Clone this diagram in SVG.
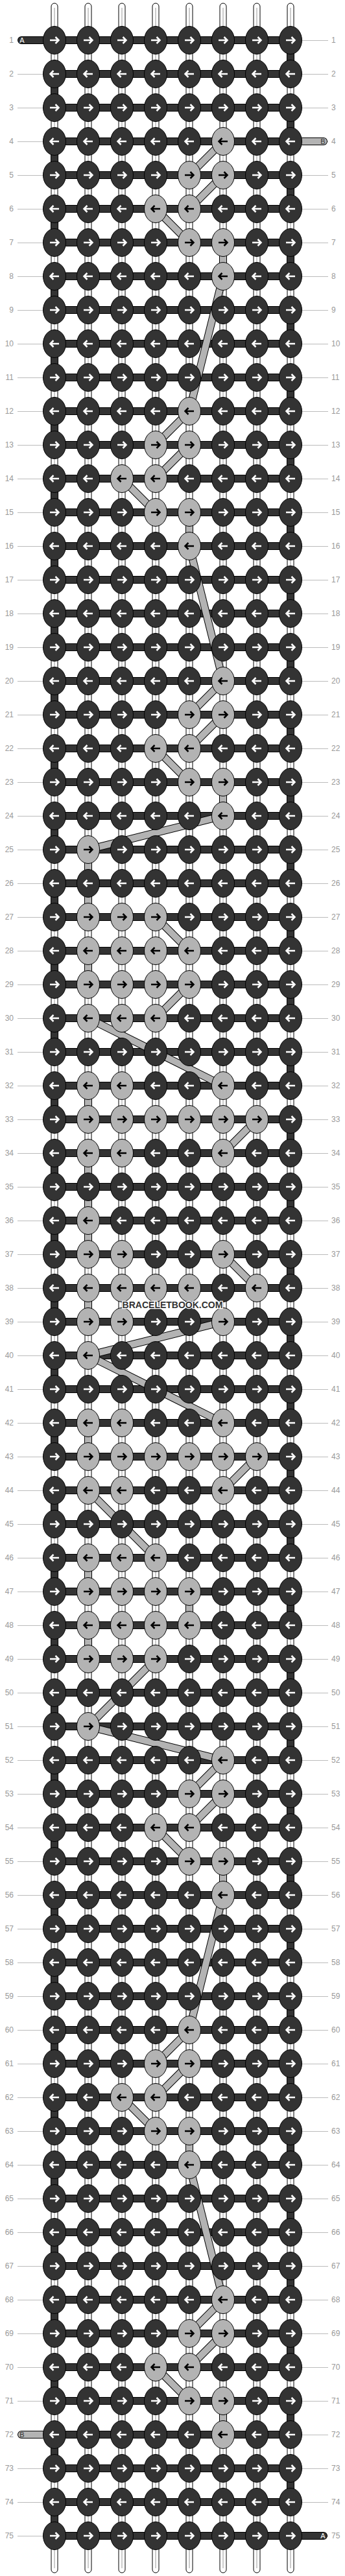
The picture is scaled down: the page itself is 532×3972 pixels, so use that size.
<svg xmlns="http://www.w3.org/2000/svg" xmlns:xlink="http://www.w3.org/1999/xlink" width="532" height="3972" viewBox="0 0 532 3972">
<style>
.kd{fill:#333;stroke:#000;stroke-width:1}
.kg{fill:#b3b3b3;stroke:#000;stroke-width:1}
.aw{fill:none;stroke:#fff;stroke-width:2.5}
.ab{fill:none;stroke:#000;stroke-width:2.5}
.str{fill:#fff;stroke:#000;stroke-width:1}
.sc{stroke:#ccc;stroke-width:2;fill:none}
.ol{fill:none;stroke:#000;stroke-width:12}
.fg{fill:none;stroke:#b3b3b3;stroke-width:10}
.olr{fill:none;stroke:#000;stroke-width:12;stroke-linecap:round}
.fdr{fill:none;stroke:#333;stroke-width:10;stroke-linecap:round}
.fgr{fill:none;stroke:#b3b3b3;stroke-width:10;stroke-linecap:round}
.tk{fill:none;stroke:#bbb;stroke-width:1}
.nl{font-family:"Liberation Sans",Arial,sans-serif;font-size:12px;fill:#999;text-anchor:end}
.nr{font-family:"Liberation Sans",Arial,sans-serif;font-size:12px;fill:#999;text-anchor:start}
.tl{font-family:"Liberation Sans",Arial,sans-serif;font-size:11px;text-anchor:middle}
.wm{font-family:"Liberation Sans",Arial,sans-serif;font-size:14px;font-weight:bold;fill:#333;stroke:#fff;stroke-width:2.5;paint-order:stroke;text-anchor:middle}
</style>
<defs>
<g id="dR"><ellipse class="kd" rx="17.5" ry="21.5"/><path class="aw" d="M-7,0H6M1.5,-5L6.5,0L1.5,5"/></g>
<g id="dL"><ellipse class="kd" rx="17.5" ry="21.5"/><path class="aw" d="M7,0H-6M-1.5,-5L-6.5,0L-1.5,5"/></g>
<g id="gR"><ellipse class="kg" rx="17.5" ry="21.5"/><path class="ab" d="M-7,0H6M1.5,-5L6.5,0L1.5,5"/></g>
<g id="gL"><ellipse class="kg" rx="17.5" ry="21.5"/><path class="ab" d="M7,0H-6M-1.5,-5L-6.5,0L-1.5,5"/></g>
<path id="apath" d="M33,62H448V114H84V166H448V218H84V270H448V322H84V374H448V426H84V478H448V530H84V582H448V634H84V686H448V738H84V790H448V842H84V894H448V946H84V998H448V1050H84V1102H448V1154H84V1206H448V1258H84V1310H448V1362H84V1414H448V1466H84V1518H448V1570H84V1622H448V1674H84V1726H448V1778H84V1830H448V1882H84V1934H448V1986H84V2038H448V2090H84V2142H448V2194H84V2246H448V2298H84V2350H448V2402H84V2454H448V2506H84V2558H448V2610H84V2662H448V2714H84V2766H448V2818H84V2870H448V2922H84V2974H448V3026H84V3078H448V3130H84V3182H448V3234H84V3286H448V3338H84V3390H448V3442H84V3494H448V3546H84V3598H448V3650H84V3702H448V3754H84V3806H448V3858H84V3910H499"/>
<path id="bpath" d="M344,218L292,270M344,270L292,322M240,322L292,374M344,374L344,426M344,426L292,634M292,634L240,686M292,686L240,738M188,738L240,790M292,790L292,842M292,842L344,1050M344,1050L292,1102M344,1102L292,1154M240,1154L292,1206M344,1206L344,1258M344,1258L136,1310M136,1310L136,1414M240,1414L292,1466M136,1466L136,1518M292,1518L240,1570M136,1570L344,1674M136,1674L136,1726M396,1726L344,1778M136,1778L136,1934M344,1934L396,1986M136,1986L136,2038M344,2038L136,2090M136,2090L344,2194M136,2194L136,2246M396,2246L344,2298M136,2298L240,2402M136,2402L136,2454M292,2454L292,2506M136,2506L136,2558M240,2558L136,2662M136,2662L344,2714M344,2714L292,2766M344,2766L292,2818M240,2818L292,2870M344,2870L344,2922M344,2922L292,3130M292,3130L240,3182M292,3182L240,3234M188,3234L240,3286M292,3286L292,3338M292,3338L344,3546M344,3546L292,3598M344,3598L292,3650M240,3650L292,3702M344,3702L344,3754"/>
</defs>
<g id="strings">
<rect class="str" x="79" y="5" width="10" height="3962" rx="5"/>
<rect class="str" x="131" y="5" width="10" height="3962" rx="5"/>
<rect class="str" x="183" y="5" width="10" height="3962" rx="5"/>
<rect class="str" x="235" y="5" width="10" height="3962" rx="5"/>
<rect class="str" x="287" y="5" width="10" height="3962" rx="5"/>
<rect class="str" x="339" y="5" width="10" height="3962" rx="5"/>
<rect class="str" x="391" y="5" width="10" height="3962" rx="5"/>
<rect class="str" x="443" y="5" width="10" height="3962" rx="5"/>
<path class="sc" d="M84,12V3960M136,12V3960M188,12V3960M240,12V3960M292,12V3960M344,12V3960M396,12V3960M448,12V3960"/>
</g>
<g id="labels">
<path class="tk" d="M27,62.5h39M27,114.5h39M27,166.5h39M27,218.5h39M27,270.5h39M27,322.5h39M27,374.5h39M27,426.5h39M27,478.5h39M27,530.5h39M27,582.5h39M27,634.5h39M27,686.5h39M27,738.5h39M27,790.5h39M27,842.5h39M27,894.5h39M27,946.5h39M27,998.5h39M27,1050.5h39M27,1102.5h39M27,1154.5h39M27,1206.5h39M27,1258.5h39M27,1310.5h39M27,1362.5h39M27,1414.5h39M27,1466.5h39M27,1518.5h39M27,1570.5h39M27,1622.5h39M27,1674.5h39M27,1726.5h39M27,1778.5h39M27,1830.5h39M27,1882.5h39M27,1934.5h39M27,1986.5h39M27,2038.5h39M27,2090.5h39M27,2142.5h39M27,2194.5h39M27,2246.5h39M27,2298.5h39M27,2350.5h39M27,2402.5h39M27,2454.5h39M27,2506.5h39M27,2558.5h39M27,2610.5h39M27,2662.5h39M27,2714.5h39M27,2766.5h39M27,2818.5h39M27,2870.5h39M27,2922.5h39M27,2974.5h39M27,3026.5h39M27,3078.5h39M27,3130.5h39M27,3182.5h39M27,3234.5h39M27,3286.5h39M27,3338.5h39M27,3390.5h39M27,3442.5h39M27,3494.5h39M27,3546.5h39M27,3598.5h39M27,3650.5h39M27,3702.5h39M27,3754.5h39M27,3806.5h39M27,3858.5h39M27,3910.5h39"/>
<path class="tk" d="M466,62.5h40M466,114.5h40M466,166.5h40M466,218.5h40M466,270.5h40M466,322.5h40M466,374.5h40M466,426.5h40M466,478.5h40M466,530.5h40M466,582.5h40M466,634.5h40M466,686.5h40M466,738.5h40M466,790.5h40M466,842.5h40M466,894.5h40M466,946.5h40M466,998.5h40M466,1050.5h40M466,1102.5h40M466,1154.5h40M466,1206.5h40M466,1258.5h40M466,1310.5h40M466,1362.5h40M466,1414.5h40M466,1466.5h40M466,1518.5h40M466,1570.5h40M466,1622.5h40M466,1674.5h40M466,1726.5h40M466,1778.5h40M466,1830.5h40M466,1882.5h40M466,1934.5h40M466,1986.5h40M466,2038.5h40M466,2090.5h40M466,2142.5h40M466,2194.5h40M466,2246.5h40M466,2298.5h40M466,2350.5h40M466,2402.5h40M466,2454.5h40M466,2506.5h40M466,2558.5h40M466,2610.5h40M466,2662.5h40M466,2714.5h40M466,2766.5h40M466,2818.5h40M466,2870.5h40M466,2922.5h40M466,2974.5h40M466,3026.5h40M466,3078.5h40M466,3130.5h40M466,3182.5h40M466,3234.5h40M466,3286.5h40M466,3338.5h40M466,3390.5h40M466,3442.5h40M466,3494.5h40M466,3546.5h40M466,3598.5h40M466,3650.5h40M466,3702.5h40M466,3754.5h40M466,3806.5h40M466,3858.5h40M466,3910.5h40"/>
<text class="nl" x="21" y="66">1</text><text class="nr" x="511" y="66">1</text>
<text class="nl" x="21" y="118">2</text><text class="nr" x="511" y="118">2</text>
<text class="nl" x="21" y="170">3</text><text class="nr" x="511" y="170">3</text>
<text class="nl" x="21" y="222">4</text><text class="nr" x="511" y="222">4</text>
<text class="nl" x="21" y="274">5</text><text class="nr" x="511" y="274">5</text>
<text class="nl" x="21" y="326">6</text><text class="nr" x="511" y="326">6</text>
<text class="nl" x="21" y="378">7</text><text class="nr" x="511" y="378">7</text>
<text class="nl" x="21" y="430">8</text><text class="nr" x="511" y="430">8</text>
<text class="nl" x="21" y="482">9</text><text class="nr" x="511" y="482">9</text>
<text class="nl" x="21" y="534">10</text><text class="nr" x="511" y="534">10</text>
<text class="nl" x="21" y="586">11</text><text class="nr" x="511" y="586">11</text>
<text class="nl" x="21" y="638">12</text><text class="nr" x="511" y="638">12</text>
<text class="nl" x="21" y="690">13</text><text class="nr" x="511" y="690">13</text>
<text class="nl" x="21" y="742">14</text><text class="nr" x="511" y="742">14</text>
<text class="nl" x="21" y="794">15</text><text class="nr" x="511" y="794">15</text>
<text class="nl" x="21" y="846">16</text><text class="nr" x="511" y="846">16</text>
<text class="nl" x="21" y="898">17</text><text class="nr" x="511" y="898">17</text>
<text class="nl" x="21" y="950">18</text><text class="nr" x="511" y="950">18</text>
<text class="nl" x="21" y="1002">19</text><text class="nr" x="511" y="1002">19</text>
<text class="nl" x="21" y="1054">20</text><text class="nr" x="511" y="1054">20</text>
<text class="nl" x="21" y="1106">21</text><text class="nr" x="511" y="1106">21</text>
<text class="nl" x="21" y="1158">22</text><text class="nr" x="511" y="1158">22</text>
<text class="nl" x="21" y="1210">23</text><text class="nr" x="511" y="1210">23</text>
<text class="nl" x="21" y="1262">24</text><text class="nr" x="511" y="1262">24</text>
<text class="nl" x="21" y="1314">25</text><text class="nr" x="511" y="1314">25</text>
<text class="nl" x="21" y="1366">26</text><text class="nr" x="511" y="1366">26</text>
<text class="nl" x="21" y="1418">27</text><text class="nr" x="511" y="1418">27</text>
<text class="nl" x="21" y="1470">28</text><text class="nr" x="511" y="1470">28</text>
<text class="nl" x="21" y="1522">29</text><text class="nr" x="511" y="1522">29</text>
<text class="nl" x="21" y="1574">30</text><text class="nr" x="511" y="1574">30</text>
<text class="nl" x="21" y="1626">31</text><text class="nr" x="511" y="1626">31</text>
<text class="nl" x="21" y="1678">32</text><text class="nr" x="511" y="1678">32</text>
<text class="nl" x="21" y="1730">33</text><text class="nr" x="511" y="1730">33</text>
<text class="nl" x="21" y="1782">34</text><text class="nr" x="511" y="1782">34</text>
<text class="nl" x="21" y="1834">35</text><text class="nr" x="511" y="1834">35</text>
<text class="nl" x="21" y="1886">36</text><text class="nr" x="511" y="1886">36</text>
<text class="nl" x="21" y="1938">37</text><text class="nr" x="511" y="1938">37</text>
<text class="nl" x="21" y="1990">38</text><text class="nr" x="511" y="1990">38</text>
<text class="nl" x="21" y="2042">39</text><text class="nr" x="511" y="2042">39</text>
<text class="nl" x="21" y="2094">40</text><text class="nr" x="511" y="2094">40</text>
<text class="nl" x="21" y="2146">41</text><text class="nr" x="511" y="2146">41</text>
<text class="nl" x="21" y="2198">42</text><text class="nr" x="511" y="2198">42</text>
<text class="nl" x="21" y="2250">43</text><text class="nr" x="511" y="2250">43</text>
<text class="nl" x="21" y="2302">44</text><text class="nr" x="511" y="2302">44</text>
<text class="nl" x="21" y="2354">45</text><text class="nr" x="511" y="2354">45</text>
<text class="nl" x="21" y="2406">46</text><text class="nr" x="511" y="2406">46</text>
<text class="nl" x="21" y="2458">47</text><text class="nr" x="511" y="2458">47</text>
<text class="nl" x="21" y="2510">48</text><text class="nr" x="511" y="2510">48</text>
<text class="nl" x="21" y="2562">49</text><text class="nr" x="511" y="2562">49</text>
<text class="nl" x="21" y="2614">50</text><text class="nr" x="511" y="2614">50</text>
<text class="nl" x="21" y="2666">51</text><text class="nr" x="511" y="2666">51</text>
<text class="nl" x="21" y="2718">52</text><text class="nr" x="511" y="2718">52</text>
<text class="nl" x="21" y="2770">53</text><text class="nr" x="511" y="2770">53</text>
<text class="nl" x="21" y="2822">54</text><text class="nr" x="511" y="2822">54</text>
<text class="nl" x="21" y="2874">55</text><text class="nr" x="511" y="2874">55</text>
<text class="nl" x="21" y="2926">56</text><text class="nr" x="511" y="2926">56</text>
<text class="nl" x="21" y="2978">57</text><text class="nr" x="511" y="2978">57</text>
<text class="nl" x="21" y="3030">58</text><text class="nr" x="511" y="3030">58</text>
<text class="nl" x="21" y="3082">59</text><text class="nr" x="511" y="3082">59</text>
<text class="nl" x="21" y="3134">60</text><text class="nr" x="511" y="3134">60</text>
<text class="nl" x="21" y="3186">61</text><text class="nr" x="511" y="3186">61</text>
<text class="nl" x="21" y="3238">62</text><text class="nr" x="511" y="3238">62</text>
<text class="nl" x="21" y="3290">63</text><text class="nr" x="511" y="3290">63</text>
<text class="nl" x="21" y="3342">64</text><text class="nr" x="511" y="3342">64</text>
<text class="nl" x="21" y="3394">65</text><text class="nr" x="511" y="3394">65</text>
<text class="nl" x="21" y="3446">66</text><text class="nr" x="511" y="3446">66</text>
<text class="nl" x="21" y="3498">67</text><text class="nr" x="511" y="3498">67</text>
<text class="nl" x="21" y="3550">68</text><text class="nr" x="511" y="3550">68</text>
<text class="nl" x="21" y="3602">69</text><text class="nr" x="511" y="3602">69</text>
<text class="nl" x="21" y="3654">70</text><text class="nr" x="511" y="3654">70</text>
<text class="nl" x="21" y="3706">71</text><text class="nr" x="511" y="3706">71</text>
<text class="nl" x="21" y="3758">72</text><text class="nr" x="511" y="3758">72</text>
<text class="nl" x="21" y="3810">73</text><text class="nr" x="511" y="3810">73</text>
<text class="nl" x="21" y="3862">74</text><text class="nr" x="511" y="3862">74</text>
<text class="nl" x="21" y="3914">75</text><text class="nr" x="511" y="3914">75</text>
</g>
<g id="threads">
<use href="#apath" class="olr"/>
<use href="#apath" class="fdr"/>
<path class="olr" d="M448,218H499M33,3754H84"/>
<path class="fgr" d="M448,218H499M33,3754H84"/>
</g>
<g id="connectors">
<use href="#bpath" class="ol"/>
<use href="#bpath" class="fg"/>
</g>
<g id="knots">
<g id="row1" transform="translate(0,62)"><use id="k1-1" href="#dR" x="84"/><use id="k1-2" href="#dR" x="136"/><use id="k1-3" href="#dR" x="188"/><use id="k1-4" href="#dR" x="240"/><use id="k1-5" href="#dR" x="292"/><use id="k1-6" href="#dR" x="344"/><use id="k1-7" href="#dR" x="396"/><use id="k1-8" href="#dR" x="448"/></g>
<g id="row2" transform="translate(0,114)"><use id="k2-1" href="#dL" x="84"/><use id="k2-2" href="#dL" x="136"/><use id="k2-3" href="#dL" x="188"/><use id="k2-4" href="#dL" x="240"/><use id="k2-5" href="#dL" x="292"/><use id="k2-6" href="#dL" x="344"/><use id="k2-7" href="#dL" x="396"/><use id="k2-8" href="#dL" x="448"/></g>
<g id="row3" transform="translate(0,166)"><use id="k3-1" href="#dR" x="84"/><use id="k3-2" href="#dR" x="136"/><use id="k3-3" href="#dR" x="188"/><use id="k3-4" href="#dR" x="240"/><use id="k3-5" href="#dR" x="292"/><use id="k3-6" href="#dR" x="344"/><use id="k3-7" href="#dR" x="396"/><use id="k3-8" href="#dR" x="448"/></g>
<g id="row4" transform="translate(0,218)"><use id="k4-1" href="#dL" x="84"/><use id="k4-2" href="#dL" x="136"/><use id="k4-3" href="#dL" x="188"/><use id="k4-4" href="#dL" x="240"/><use id="k4-5" href="#dL" x="292"/><use id="k4-6" href="#gL" x="344"/><use id="k4-7" href="#dL" x="396"/><use id="k4-8" href="#dL" x="448"/></g>
<g id="row5" transform="translate(0,270)"><use id="k5-1" href="#dR" x="84"/><use id="k5-2" href="#dR" x="136"/><use id="k5-3" href="#dR" x="188"/><use id="k5-4" href="#dR" x="240"/><use id="k5-5" href="#gR" x="292"/><use id="k5-6" href="#gR" x="344"/><use id="k5-7" href="#dR" x="396"/><use id="k5-8" href="#dR" x="448"/></g>
<g id="row6" transform="translate(0,322)"><use id="k6-1" href="#dL" x="84"/><use id="k6-2" href="#dL" x="136"/><use id="k6-3" href="#dL" x="188"/><use id="k6-4" href="#gL" x="240"/><use id="k6-5" href="#gL" x="292"/><use id="k6-6" href="#dL" x="344"/><use id="k6-7" href="#dL" x="396"/><use id="k6-8" href="#dL" x="448"/></g>
<g id="row7" transform="translate(0,374)"><use id="k7-1" href="#dR" x="84"/><use id="k7-2" href="#dR" x="136"/><use id="k7-3" href="#dR" x="188"/><use id="k7-4" href="#dR" x="240"/><use id="k7-5" href="#gR" x="292"/><use id="k7-6" href="#gR" x="344"/><use id="k7-7" href="#dR" x="396"/><use id="k7-8" href="#dR" x="448"/></g>
<g id="row8" transform="translate(0,426)"><use id="k8-1" href="#dL" x="84"/><use id="k8-2" href="#dL" x="136"/><use id="k8-3" href="#dL" x="188"/><use id="k8-4" href="#dL" x="240"/><use id="k8-5" href="#dL" x="292"/><use id="k8-6" href="#gL" x="344"/><use id="k8-7" href="#dL" x="396"/><use id="k8-8" href="#dL" x="448"/></g>
<g id="row9" transform="translate(0,478)"><use id="k9-1" href="#dR" x="84"/><use id="k9-2" href="#dR" x="136"/><use id="k9-3" href="#dR" x="188"/><use id="k9-4" href="#dR" x="240"/><use id="k9-5" href="#dR" x="292"/><use id="k9-6" href="#dR" x="344"/><use id="k9-7" href="#dR" x="396"/><use id="k9-8" href="#dR" x="448"/></g>
<g id="row10" transform="translate(0,530)"><use id="k10-1" href="#dL" x="84"/><use id="k10-2" href="#dL" x="136"/><use id="k10-3" href="#dL" x="188"/><use id="k10-4" href="#dL" x="240"/><use id="k10-5" href="#dL" x="292"/><use id="k10-6" href="#dL" x="344"/><use id="k10-7" href="#dL" x="396"/><use id="k10-8" href="#dL" x="448"/></g>
<g id="row11" transform="translate(0,582)"><use id="k11-1" href="#dR" x="84"/><use id="k11-2" href="#dR" x="136"/><use id="k11-3" href="#dR" x="188"/><use id="k11-4" href="#dR" x="240"/><use id="k11-5" href="#dR" x="292"/><use id="k11-6" href="#dR" x="344"/><use id="k11-7" href="#dR" x="396"/><use id="k11-8" href="#dR" x="448"/></g>
<g id="row12" transform="translate(0,634)"><use id="k12-1" href="#dL" x="84"/><use id="k12-2" href="#dL" x="136"/><use id="k12-3" href="#dL" x="188"/><use id="k12-4" href="#dL" x="240"/><use id="k12-5" href="#gL" x="292"/><use id="k12-6" href="#dL" x="344"/><use id="k12-7" href="#dL" x="396"/><use id="k12-8" href="#dL" x="448"/></g>
<g id="row13" transform="translate(0,686)"><use id="k13-1" href="#dR" x="84"/><use id="k13-2" href="#dR" x="136"/><use id="k13-3" href="#dR" x="188"/><use id="k13-4" href="#gR" x="240"/><use id="k13-5" href="#gR" x="292"/><use id="k13-6" href="#dR" x="344"/><use id="k13-7" href="#dR" x="396"/><use id="k13-8" href="#dR" x="448"/></g>
<g id="row14" transform="translate(0,738)"><use id="k14-1" href="#dL" x="84"/><use id="k14-2" href="#dL" x="136"/><use id="k14-3" href="#gL" x="188"/><use id="k14-4" href="#gL" x="240"/><use id="k14-5" href="#dL" x="292"/><use id="k14-6" href="#dL" x="344"/><use id="k14-7" href="#dL" x="396"/><use id="k14-8" href="#dL" x="448"/></g>
<g id="row15" transform="translate(0,790)"><use id="k15-1" href="#dR" x="84"/><use id="k15-2" href="#dR" x="136"/><use id="k15-3" href="#dR" x="188"/><use id="k15-4" href="#gR" x="240"/><use id="k15-5" href="#gR" x="292"/><use id="k15-6" href="#dR" x="344"/><use id="k15-7" href="#dR" x="396"/><use id="k15-8" href="#dR" x="448"/></g>
<g id="row16" transform="translate(0,842)"><use id="k16-1" href="#dL" x="84"/><use id="k16-2" href="#dL" x="136"/><use id="k16-3" href="#dL" x="188"/><use id="k16-4" href="#dL" x="240"/><use id="k16-5" href="#gL" x="292"/><use id="k16-6" href="#dL" x="344"/><use id="k16-7" href="#dL" x="396"/><use id="k16-8" href="#dL" x="448"/></g>
<g id="row17" transform="translate(0,894)"><use id="k17-1" href="#dR" x="84"/><use id="k17-2" href="#dR" x="136"/><use id="k17-3" href="#dR" x="188"/><use id="k17-4" href="#dR" x="240"/><use id="k17-5" href="#dR" x="292"/><use id="k17-6" href="#dR" x="344"/><use id="k17-7" href="#dR" x="396"/><use id="k17-8" href="#dR" x="448"/></g>
<g id="row18" transform="translate(0,946)"><use id="k18-1" href="#dL" x="84"/><use id="k18-2" href="#dL" x="136"/><use id="k18-3" href="#dL" x="188"/><use id="k18-4" href="#dL" x="240"/><use id="k18-5" href="#dL" x="292"/><use id="k18-6" href="#dL" x="344"/><use id="k18-7" href="#dL" x="396"/><use id="k18-8" href="#dL" x="448"/></g>
<g id="row19" transform="translate(0,998)"><use id="k19-1" href="#dR" x="84"/><use id="k19-2" href="#dR" x="136"/><use id="k19-3" href="#dR" x="188"/><use id="k19-4" href="#dR" x="240"/><use id="k19-5" href="#dR" x="292"/><use id="k19-6" href="#dR" x="344"/><use id="k19-7" href="#dR" x="396"/><use id="k19-8" href="#dR" x="448"/></g>
<g id="row20" transform="translate(0,1050)"><use id="k20-1" href="#dL" x="84"/><use id="k20-2" href="#dL" x="136"/><use id="k20-3" href="#dL" x="188"/><use id="k20-4" href="#dL" x="240"/><use id="k20-5" href="#dL" x="292"/><use id="k20-6" href="#gL" x="344"/><use id="k20-7" href="#dL" x="396"/><use id="k20-8" href="#dL" x="448"/></g>
<g id="row21" transform="translate(0,1102)"><use id="k21-1" href="#dR" x="84"/><use id="k21-2" href="#dR" x="136"/><use id="k21-3" href="#dR" x="188"/><use id="k21-4" href="#dR" x="240"/><use id="k21-5" href="#gR" x="292"/><use id="k21-6" href="#gR" x="344"/><use id="k21-7" href="#dR" x="396"/><use id="k21-8" href="#dR" x="448"/></g>
<g id="row22" transform="translate(0,1154)"><use id="k22-1" href="#dL" x="84"/><use id="k22-2" href="#dL" x="136"/><use id="k22-3" href="#dL" x="188"/><use id="k22-4" href="#gL" x="240"/><use id="k22-5" href="#gL" x="292"/><use id="k22-6" href="#dL" x="344"/><use id="k22-7" href="#dL" x="396"/><use id="k22-8" href="#dL" x="448"/></g>
<g id="row23" transform="translate(0,1206)"><use id="k23-1" href="#dR" x="84"/><use id="k23-2" href="#dR" x="136"/><use id="k23-3" href="#dR" x="188"/><use id="k23-4" href="#dR" x="240"/><use id="k23-5" href="#gR" x="292"/><use id="k23-6" href="#gR" x="344"/><use id="k23-7" href="#dR" x="396"/><use id="k23-8" href="#dR" x="448"/></g>
<g id="row24" transform="translate(0,1258)"><use id="k24-1" href="#dL" x="84"/><use id="k24-2" href="#dL" x="136"/><use id="k24-3" href="#dL" x="188"/><use id="k24-4" href="#dL" x="240"/><use id="k24-5" href="#dL" x="292"/><use id="k24-6" href="#gL" x="344"/><use id="k24-7" href="#dL" x="396"/><use id="k24-8" href="#dL" x="448"/></g>
<g id="row25" transform="translate(0,1310)"><use id="k25-1" href="#dR" x="84"/><use id="k25-2" href="#gR" x="136"/><use id="k25-3" href="#dR" x="188"/><use id="k25-4" href="#dR" x="240"/><use id="k25-5" href="#dR" x="292"/><use id="k25-6" href="#dR" x="344"/><use id="k25-7" href="#dR" x="396"/><use id="k25-8" href="#dR" x="448"/></g>
<g id="row26" transform="translate(0,1362)"><use id="k26-1" href="#dL" x="84"/><use id="k26-2" href="#dL" x="136"/><use id="k26-3" href="#dL" x="188"/><use id="k26-4" href="#dL" x="240"/><use id="k26-5" href="#dL" x="292"/><use id="k26-6" href="#dL" x="344"/><use id="k26-7" href="#dL" x="396"/><use id="k26-8" href="#dL" x="448"/></g>
<g id="row27" transform="translate(0,1414)"><use id="k27-1" href="#dR" x="84"/><use id="k27-2" href="#gR" x="136"/><use id="k27-3" href="#gR" x="188"/><use id="k27-4" href="#gR" x="240"/><use id="k27-5" href="#dR" x="292"/><use id="k27-6" href="#dR" x="344"/><use id="k27-7" href="#dR" x="396"/><use id="k27-8" href="#dR" x="448"/></g>
<g id="row28" transform="translate(0,1466)"><use id="k28-1" href="#dL" x="84"/><use id="k28-2" href="#gL" x="136"/><use id="k28-3" href="#gL" x="188"/><use id="k28-4" href="#gL" x="240"/><use id="k28-5" href="#gL" x="292"/><use id="k28-6" href="#dL" x="344"/><use id="k28-7" href="#dL" x="396"/><use id="k28-8" href="#dL" x="448"/></g>
<g id="row29" transform="translate(0,1518)"><use id="k29-1" href="#dR" x="84"/><use id="k29-2" href="#gR" x="136"/><use id="k29-3" href="#gR" x="188"/><use id="k29-4" href="#gR" x="240"/><use id="k29-5" href="#gR" x="292"/><use id="k29-6" href="#dR" x="344"/><use id="k29-7" href="#dR" x="396"/><use id="k29-8" href="#dR" x="448"/></g>
<g id="row30" transform="translate(0,1570)"><use id="k30-1" href="#dL" x="84"/><use id="k30-2" href="#gL" x="136"/><use id="k30-3" href="#gL" x="188"/><use id="k30-4" href="#gL" x="240"/><use id="k30-5" href="#dL" x="292"/><use id="k30-6" href="#dL" x="344"/><use id="k30-7" href="#dL" x="396"/><use id="k30-8" href="#dL" x="448"/></g>
<g id="row31" transform="translate(0,1622)"><use id="k31-1" href="#dR" x="84"/><use id="k31-2" href="#dR" x="136"/><use id="k31-3" href="#dR" x="188"/><use id="k31-4" href="#dR" x="240"/><use id="k31-5" href="#dR" x="292"/><use id="k31-6" href="#dR" x="344"/><use id="k31-7" href="#dR" x="396"/><use id="k31-8" href="#dR" x="448"/></g>
<g id="row32" transform="translate(0,1674)"><use id="k32-1" href="#dL" x="84"/><use id="k32-2" href="#gL" x="136"/><use id="k32-3" href="#gL" x="188"/><use id="k32-4" href="#dL" x="240"/><use id="k32-5" href="#dL" x="292"/><use id="k32-6" href="#gL" x="344"/><use id="k32-7" href="#dL" x="396"/><use id="k32-8" href="#dL" x="448"/></g>
<g id="row33" transform="translate(0,1726)"><use id="k33-1" href="#dR" x="84"/><use id="k33-2" href="#gR" x="136"/><use id="k33-3" href="#gR" x="188"/><use id="k33-4" href="#gR" x="240"/><use id="k33-5" href="#gR" x="292"/><use id="k33-6" href="#gR" x="344"/><use id="k33-7" href="#gR" x="396"/><use id="k33-8" href="#dR" x="448"/></g>
<g id="row34" transform="translate(0,1778)"><use id="k34-1" href="#dL" x="84"/><use id="k34-2" href="#gL" x="136"/><use id="k34-3" href="#gL" x="188"/><use id="k34-4" href="#dL" x="240"/><use id="k34-5" href="#dL" x="292"/><use id="k34-6" href="#gL" x="344"/><use id="k34-7" href="#dL" x="396"/><use id="k34-8" href="#dL" x="448"/></g>
<g id="row35" transform="translate(0,1830)"><use id="k35-1" href="#dR" x="84"/><use id="k35-2" href="#dR" x="136"/><use id="k35-3" href="#dR" x="188"/><use id="k35-4" href="#dR" x="240"/><use id="k35-5" href="#dR" x="292"/><use id="k35-6" href="#dR" x="344"/><use id="k35-7" href="#dR" x="396"/><use id="k35-8" href="#dR" x="448"/></g>
<g id="row36" transform="translate(0,1882)"><use id="k36-1" href="#dL" x="84"/><use id="k36-2" href="#gL" x="136"/><use id="k36-3" href="#dL" x="188"/><use id="k36-4" href="#dL" x="240"/><use id="k36-5" href="#dL" x="292"/><use id="k36-6" href="#dL" x="344"/><use id="k36-7" href="#dL" x="396"/><use id="k36-8" href="#dL" x="448"/></g>
<g id="row37" transform="translate(0,1934)"><use id="k37-1" href="#dR" x="84"/><use id="k37-2" href="#gR" x="136"/><use id="k37-3" href="#gR" x="188"/><use id="k37-4" href="#dR" x="240"/><use id="k37-5" href="#dR" x="292"/><use id="k37-6" href="#gR" x="344"/><use id="k37-7" href="#dR" x="396"/><use id="k37-8" href="#dR" x="448"/></g>
<g id="row38" transform="translate(0,1986)"><use id="k38-1" href="#dL" x="84"/><use id="k38-2" href="#gL" x="136"/><use id="k38-3" href="#gL" x="188"/><use id="k38-4" href="#gL" x="240"/><use id="k38-5" href="#gL" x="292"/><use id="k38-6" href="#dL" x="344"/><use id="k38-7" href="#gL" x="396"/><use id="k38-8" href="#dL" x="448"/></g>
<g id="row39" transform="translate(0,2038)"><use id="k39-1" href="#dR" x="84"/><use id="k39-2" href="#gR" x="136"/><use id="k39-3" href="#gR" x="188"/><use id="k39-4" href="#dR" x="240"/><use id="k39-5" href="#dR" x="292"/><use id="k39-6" href="#gR" x="344"/><use id="k39-7" href="#dR" x="396"/><use id="k39-8" href="#dR" x="448"/></g>
<g id="row40" transform="translate(0,2090)"><use id="k40-1" href="#dL" x="84"/><use id="k40-2" href="#gL" x="136"/><use id="k40-3" href="#dL" x="188"/><use id="k40-4" href="#dL" x="240"/><use id="k40-5" href="#dL" x="292"/><use id="k40-6" href="#dL" x="344"/><use id="k40-7" href="#dL" x="396"/><use id="k40-8" href="#dL" x="448"/></g>
<g id="row41" transform="translate(0,2142)"><use id="k41-1" href="#dR" x="84"/><use id="k41-2" href="#dR" x="136"/><use id="k41-3" href="#dR" x="188"/><use id="k41-4" href="#dR" x="240"/><use id="k41-5" href="#dR" x="292"/><use id="k41-6" href="#dR" x="344"/><use id="k41-7" href="#dR" x="396"/><use id="k41-8" href="#dR" x="448"/></g>
<g id="row42" transform="translate(0,2194)"><use id="k42-1" href="#dL" x="84"/><use id="k42-2" href="#gL" x="136"/><use id="k42-3" href="#gL" x="188"/><use id="k42-4" href="#dL" x="240"/><use id="k42-5" href="#dL" x="292"/><use id="k42-6" href="#gL" x="344"/><use id="k42-7" href="#dL" x="396"/><use id="k42-8" href="#dL" x="448"/></g>
<g id="row43" transform="translate(0,2246)"><use id="k43-1" href="#dR" x="84"/><use id="k43-2" href="#gR" x="136"/><use id="k43-3" href="#gR" x="188"/><use id="k43-4" href="#gR" x="240"/><use id="k43-5" href="#gR" x="292"/><use id="k43-6" href="#gR" x="344"/><use id="k43-7" href="#gR" x="396"/><use id="k43-8" href="#dR" x="448"/></g>
<g id="row44" transform="translate(0,2298)"><use id="k44-1" href="#dL" x="84"/><use id="k44-2" href="#gL" x="136"/><use id="k44-3" href="#gL" x="188"/><use id="k44-4" href="#dL" x="240"/><use id="k44-5" href="#dL" x="292"/><use id="k44-6" href="#gL" x="344"/><use id="k44-7" href="#dL" x="396"/><use id="k44-8" href="#dL" x="448"/></g>
<g id="row45" transform="translate(0,2350)"><use id="k45-1" href="#dR" x="84"/><use id="k45-2" href="#dR" x="136"/><use id="k45-3" href="#dR" x="188"/><use id="k45-4" href="#dR" x="240"/><use id="k45-5" href="#dR" x="292"/><use id="k45-6" href="#dR" x="344"/><use id="k45-7" href="#dR" x="396"/><use id="k45-8" href="#dR" x="448"/></g>
<g id="row46" transform="translate(0,2402)"><use id="k46-1" href="#dL" x="84"/><use id="k46-2" href="#gL" x="136"/><use id="k46-3" href="#gL" x="188"/><use id="k46-4" href="#gL" x="240"/><use id="k46-5" href="#dL" x="292"/><use id="k46-6" href="#dL" x="344"/><use id="k46-7" href="#dL" x="396"/><use id="k46-8" href="#dL" x="448"/></g>
<g id="row47" transform="translate(0,2454)"><use id="k47-1" href="#dR" x="84"/><use id="k47-2" href="#gR" x="136"/><use id="k47-3" href="#gR" x="188"/><use id="k47-4" href="#gR" x="240"/><use id="k47-5" href="#gR" x="292"/><use id="k47-6" href="#dR" x="344"/><use id="k47-7" href="#dR" x="396"/><use id="k47-8" href="#dR" x="448"/></g>
<g id="row48" transform="translate(0,2506)"><use id="k48-1" href="#dL" x="84"/><use id="k48-2" href="#gL" x="136"/><use id="k48-3" href="#gL" x="188"/><use id="k48-4" href="#gL" x="240"/><use id="k48-5" href="#gL" x="292"/><use id="k48-6" href="#dL" x="344"/><use id="k48-7" href="#dL" x="396"/><use id="k48-8" href="#dL" x="448"/></g>
<g id="row49" transform="translate(0,2558)"><use id="k49-1" href="#dR" x="84"/><use id="k49-2" href="#gR" x="136"/><use id="k49-3" href="#gR" x="188"/><use id="k49-4" href="#gR" x="240"/><use id="k49-5" href="#dR" x="292"/><use id="k49-6" href="#dR" x="344"/><use id="k49-7" href="#dR" x="396"/><use id="k49-8" href="#dR" x="448"/></g>
<g id="row50" transform="translate(0,2610)"><use id="k50-1" href="#dL" x="84"/><use id="k50-2" href="#dL" x="136"/><use id="k50-3" href="#dL" x="188"/><use id="k50-4" href="#dL" x="240"/><use id="k50-5" href="#dL" x="292"/><use id="k50-6" href="#dL" x="344"/><use id="k50-7" href="#dL" x="396"/><use id="k50-8" href="#dL" x="448"/></g>
<g id="row51" transform="translate(0,2662)"><use id="k51-1" href="#dR" x="84"/><use id="k51-2" href="#gR" x="136"/><use id="k51-3" href="#dR" x="188"/><use id="k51-4" href="#dR" x="240"/><use id="k51-5" href="#dR" x="292"/><use id="k51-6" href="#dR" x="344"/><use id="k51-7" href="#dR" x="396"/><use id="k51-8" href="#dR" x="448"/></g>
<g id="row52" transform="translate(0,2714)"><use id="k52-1" href="#dL" x="84"/><use id="k52-2" href="#dL" x="136"/><use id="k52-3" href="#dL" x="188"/><use id="k52-4" href="#dL" x="240"/><use id="k52-5" href="#dL" x="292"/><use id="k52-6" href="#gL" x="344"/><use id="k52-7" href="#dL" x="396"/><use id="k52-8" href="#dL" x="448"/></g>
<g id="row53" transform="translate(0,2766)"><use id="k53-1" href="#dR" x="84"/><use id="k53-2" href="#dR" x="136"/><use id="k53-3" href="#dR" x="188"/><use id="k53-4" href="#dR" x="240"/><use id="k53-5" href="#gR" x="292"/><use id="k53-6" href="#gR" x="344"/><use id="k53-7" href="#dR" x="396"/><use id="k53-8" href="#dR" x="448"/></g>
<g id="row54" transform="translate(0,2818)"><use id="k54-1" href="#dL" x="84"/><use id="k54-2" href="#dL" x="136"/><use id="k54-3" href="#dL" x="188"/><use id="k54-4" href="#gL" x="240"/><use id="k54-5" href="#gL" x="292"/><use id="k54-6" href="#dL" x="344"/><use id="k54-7" href="#dL" x="396"/><use id="k54-8" href="#dL" x="448"/></g>
<g id="row55" transform="translate(0,2870)"><use id="k55-1" href="#dR" x="84"/><use id="k55-2" href="#dR" x="136"/><use id="k55-3" href="#dR" x="188"/><use id="k55-4" href="#dR" x="240"/><use id="k55-5" href="#gR" x="292"/><use id="k55-6" href="#gR" x="344"/><use id="k55-7" href="#dR" x="396"/><use id="k55-8" href="#dR" x="448"/></g>
<g id="row56" transform="translate(0,2922)"><use id="k56-1" href="#dL" x="84"/><use id="k56-2" href="#dL" x="136"/><use id="k56-3" href="#dL" x="188"/><use id="k56-4" href="#dL" x="240"/><use id="k56-5" href="#dL" x="292"/><use id="k56-6" href="#gL" x="344"/><use id="k56-7" href="#dL" x="396"/><use id="k56-8" href="#dL" x="448"/></g>
<g id="row57" transform="translate(0,2974)"><use id="k57-1" href="#dR" x="84"/><use id="k57-2" href="#dR" x="136"/><use id="k57-3" href="#dR" x="188"/><use id="k57-4" href="#dR" x="240"/><use id="k57-5" href="#dR" x="292"/><use id="k57-6" href="#dR" x="344"/><use id="k57-7" href="#dR" x="396"/><use id="k57-8" href="#dR" x="448"/></g>
<g id="row58" transform="translate(0,3026)"><use id="k58-1" href="#dL" x="84"/><use id="k58-2" href="#dL" x="136"/><use id="k58-3" href="#dL" x="188"/><use id="k58-4" href="#dL" x="240"/><use id="k58-5" href="#dL" x="292"/><use id="k58-6" href="#dL" x="344"/><use id="k58-7" href="#dL" x="396"/><use id="k58-8" href="#dL" x="448"/></g>
<g id="row59" transform="translate(0,3078)"><use id="k59-1" href="#dR" x="84"/><use id="k59-2" href="#dR" x="136"/><use id="k59-3" href="#dR" x="188"/><use id="k59-4" href="#dR" x="240"/><use id="k59-5" href="#dR" x="292"/><use id="k59-6" href="#dR" x="344"/><use id="k59-7" href="#dR" x="396"/><use id="k59-8" href="#dR" x="448"/></g>
<g id="row60" transform="translate(0,3130)"><use id="k60-1" href="#dL" x="84"/><use id="k60-2" href="#dL" x="136"/><use id="k60-3" href="#dL" x="188"/><use id="k60-4" href="#dL" x="240"/><use id="k60-5" href="#gL" x="292"/><use id="k60-6" href="#dL" x="344"/><use id="k60-7" href="#dL" x="396"/><use id="k60-8" href="#dL" x="448"/></g>
<g id="row61" transform="translate(0,3182)"><use id="k61-1" href="#dR" x="84"/><use id="k61-2" href="#dR" x="136"/><use id="k61-3" href="#dR" x="188"/><use id="k61-4" href="#gR" x="240"/><use id="k61-5" href="#gR" x="292"/><use id="k61-6" href="#dR" x="344"/><use id="k61-7" href="#dR" x="396"/><use id="k61-8" href="#dR" x="448"/></g>
<g id="row62" transform="translate(0,3234)"><use id="k62-1" href="#dL" x="84"/><use id="k62-2" href="#dL" x="136"/><use id="k62-3" href="#gL" x="188"/><use id="k62-4" href="#gL" x="240"/><use id="k62-5" href="#dL" x="292"/><use id="k62-6" href="#dL" x="344"/><use id="k62-7" href="#dL" x="396"/><use id="k62-8" href="#dL" x="448"/></g>
<g id="row63" transform="translate(0,3286)"><use id="k63-1" href="#dR" x="84"/><use id="k63-2" href="#dR" x="136"/><use id="k63-3" href="#dR" x="188"/><use id="k63-4" href="#gR" x="240"/><use id="k63-5" href="#gR" x="292"/><use id="k63-6" href="#dR" x="344"/><use id="k63-7" href="#dR" x="396"/><use id="k63-8" href="#dR" x="448"/></g>
<g id="row64" transform="translate(0,3338)"><use id="k64-1" href="#dL" x="84"/><use id="k64-2" href="#dL" x="136"/><use id="k64-3" href="#dL" x="188"/><use id="k64-4" href="#dL" x="240"/><use id="k64-5" href="#gL" x="292"/><use id="k64-6" href="#dL" x="344"/><use id="k64-7" href="#dL" x="396"/><use id="k64-8" href="#dL" x="448"/></g>
<g id="row65" transform="translate(0,3390)"><use id="k65-1" href="#dR" x="84"/><use id="k65-2" href="#dR" x="136"/><use id="k65-3" href="#dR" x="188"/><use id="k65-4" href="#dR" x="240"/><use id="k65-5" href="#dR" x="292"/><use id="k65-6" href="#dR" x="344"/><use id="k65-7" href="#dR" x="396"/><use id="k65-8" href="#dR" x="448"/></g>
<g id="row66" transform="translate(0,3442)"><use id="k66-1" href="#dL" x="84"/><use id="k66-2" href="#dL" x="136"/><use id="k66-3" href="#dL" x="188"/><use id="k66-4" href="#dL" x="240"/><use id="k66-5" href="#dL" x="292"/><use id="k66-6" href="#dL" x="344"/><use id="k66-7" href="#dL" x="396"/><use id="k66-8" href="#dL" x="448"/></g>
<g id="row67" transform="translate(0,3494)"><use id="k67-1" href="#dR" x="84"/><use id="k67-2" href="#dR" x="136"/><use id="k67-3" href="#dR" x="188"/><use id="k67-4" href="#dR" x="240"/><use id="k67-5" href="#dR" x="292"/><use id="k67-6" href="#dR" x="344"/><use id="k67-7" href="#dR" x="396"/><use id="k67-8" href="#dR" x="448"/></g>
<g id="row68" transform="translate(0,3546)"><use id="k68-1" href="#dL" x="84"/><use id="k68-2" href="#dL" x="136"/><use id="k68-3" href="#dL" x="188"/><use id="k68-4" href="#dL" x="240"/><use id="k68-5" href="#dL" x="292"/><use id="k68-6" href="#gL" x="344"/><use id="k68-7" href="#dL" x="396"/><use id="k68-8" href="#dL" x="448"/></g>
<g id="row69" transform="translate(0,3598)"><use id="k69-1" href="#dR" x="84"/><use id="k69-2" href="#dR" x="136"/><use id="k69-3" href="#dR" x="188"/><use id="k69-4" href="#dR" x="240"/><use id="k69-5" href="#gR" x="292"/><use id="k69-6" href="#gR" x="344"/><use id="k69-7" href="#dR" x="396"/><use id="k69-8" href="#dR" x="448"/></g>
<g id="row70" transform="translate(0,3650)"><use id="k70-1" href="#dL" x="84"/><use id="k70-2" href="#dL" x="136"/><use id="k70-3" href="#dL" x="188"/><use id="k70-4" href="#gL" x="240"/><use id="k70-5" href="#gL" x="292"/><use id="k70-6" href="#dL" x="344"/><use id="k70-7" href="#dL" x="396"/><use id="k70-8" href="#dL" x="448"/></g>
<g id="row71" transform="translate(0,3702)"><use id="k71-1" href="#dR" x="84"/><use id="k71-2" href="#dR" x="136"/><use id="k71-3" href="#dR" x="188"/><use id="k71-4" href="#dR" x="240"/><use id="k71-5" href="#gR" x="292"/><use id="k71-6" href="#gR" x="344"/><use id="k71-7" href="#dR" x="396"/><use id="k71-8" href="#dR" x="448"/></g>
<g id="row72" transform="translate(0,3754)"><use id="k72-1" href="#dL" x="84"/><use id="k72-2" href="#dL" x="136"/><use id="k72-3" href="#dL" x="188"/><use id="k72-4" href="#dL" x="240"/><use id="k72-5" href="#dL" x="292"/><use id="k72-6" href="#gL" x="344"/><use id="k72-7" href="#dL" x="396"/><use id="k72-8" href="#dL" x="448"/></g>
<g id="row73" transform="translate(0,3806)"><use id="k73-1" href="#dR" x="84"/><use id="k73-2" href="#dR" x="136"/><use id="k73-3" href="#dR" x="188"/><use id="k73-4" href="#dR" x="240"/><use id="k73-5" href="#dR" x="292"/><use id="k73-6" href="#dR" x="344"/><use id="k73-7" href="#dR" x="396"/><use id="k73-8" href="#dR" x="448"/></g>
<g id="row74" transform="translate(0,3858)"><use id="k74-1" href="#dL" x="84"/><use id="k74-2" href="#dL" x="136"/><use id="k74-3" href="#dL" x="188"/><use id="k74-4" href="#dL" x="240"/><use id="k74-5" href="#dL" x="292"/><use id="k74-6" href="#dL" x="344"/><use id="k74-7" href="#dL" x="396"/><use id="k74-8" href="#dL" x="448"/></g>
<g id="row75" transform="translate(0,3910)"><use id="k75-1" href="#dR" x="84"/><use id="k75-2" href="#dR" x="136"/><use id="k75-3" href="#dR" x="188"/><use id="k75-4" href="#dR" x="240"/><use id="k75-5" href="#dR" x="292"/><use id="k75-6" href="#dR" x="344"/><use id="k75-7" href="#dR" x="396"/><use id="k75-8" href="#dR" x="448"/></g>
</g>
<g id="thread-labels">
<text class="tl" x="34" y="66" fill="#fff">A</text>
<text class="tl" x="498" y="222" fill="#333">B</text>
<text class="tl" x="34" y="3758" fill="#333">B</text>
<text class="tl" x="498" y="3914" fill="#fff">A</text>
</g>
<text class="wm" x="266" y="2017">BRACELETBOOK.COM</text>
</svg>
